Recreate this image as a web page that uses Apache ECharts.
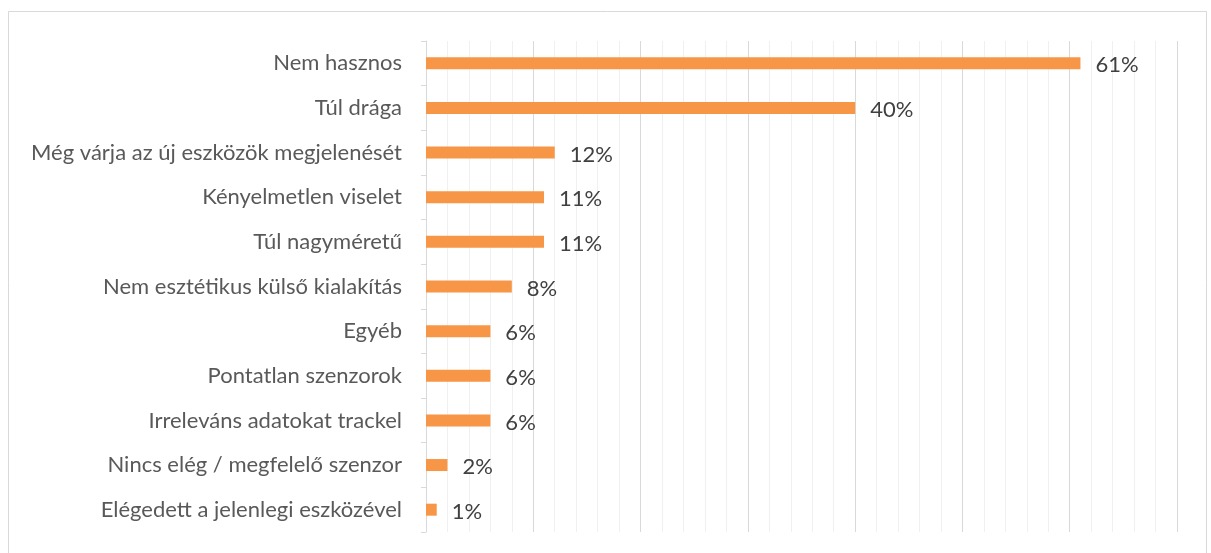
<!DOCTYPE html>
<html>
<head>
<meta charset="utf-8">
<script src="https://cdn.jsdelivr.net/npm/echarts@6/dist/echarts.min.js"></script>
<style>
  html, body { margin: 0; padding: 0; background: #fff; }
  #chart { width: 1211px; height: 553px; }
</style>
</head>
<body>
<div id="chart"></div>
<script>
// Reasons for not using a wearable device (share of respondents, %)
const categories = [
  'Nem hasznos',
  'Túl drága',
  'Még várja az új eszközök megjelenését',
  'Kényelmetlen viselet',
  'Túl nagyméretű',
  'Nem esztétikus külső kialakítás',
  'Egyéb',
  'Pontatlan szenzorok',
  'Irreleváns adatokat trackel',
  'Nincs elég / megfelelő szenzor',
  'Elégedett a jelenlegi eszközével'
];
const values = [61, 40, 12, 11, 11, 8, 6, 6, 6, 2, 1];

const FONT = 'Lato, "Open Sans", sans-serif';
const chart = echarts.init(document.getElementById('chart'), null, { renderer: 'canvas' });

chart.setOption({
  backgroundColor: '#ffffff',
  animation: false,
  graphic: [{
    type: 'rect',
    shape: { x: 8.5, y: 11.5, width: 1198, height: 560 },
    style: { fill: 'none', stroke: '#d9d9d9', lineWidth: 1 },
    silent: true,
    z: -10
  }],
  grid: { left: 426, right: 34, top: 41, bottom: 21, containLabel: false },
  xAxis: {
    type: 'value',
    min: 0,
    max: 70,
    interval: 10,
    axisLine: { show: false },
    axisTick: { show: false },
    axisLabel: { show: false },
    splitLine: { show: true, lineStyle: { color: '#d9d9d9', width: 1 } },
    minorTick: { show: false, splitNumber: 5 },
    minorSplitLine: { show: true, lineStyle: { color: '#f0f0f0', width: 1 } }
  },
  yAxis: {
    type: 'category',
    data: categories,
    inverse: true,
    axisLine: { show: true, lineStyle: { color: '#d9d9d9', width: 1 } },
    axisTick: { show: true, length: 5, lineStyle: { color: '#d9d9d9' } },
    axisLabel: {
      color: '#595959',
      fontFamily: FONT,
      fontSize: 22,
      margin: 24
    }
  },
  series: [{
    type: 'bar',
    data: values,
    barWidth: 12,
    itemStyle: { color: '#f79646' },
    label: {
      show: true,
      position: 'right',
      distance: 15,
      offset: [0, 2],
      formatter: '{c}%',
      color: '#404040',
      fontFamily: FONT,
      fontSize: 22
    }
  }]
});
</script>
</body>
</html>
